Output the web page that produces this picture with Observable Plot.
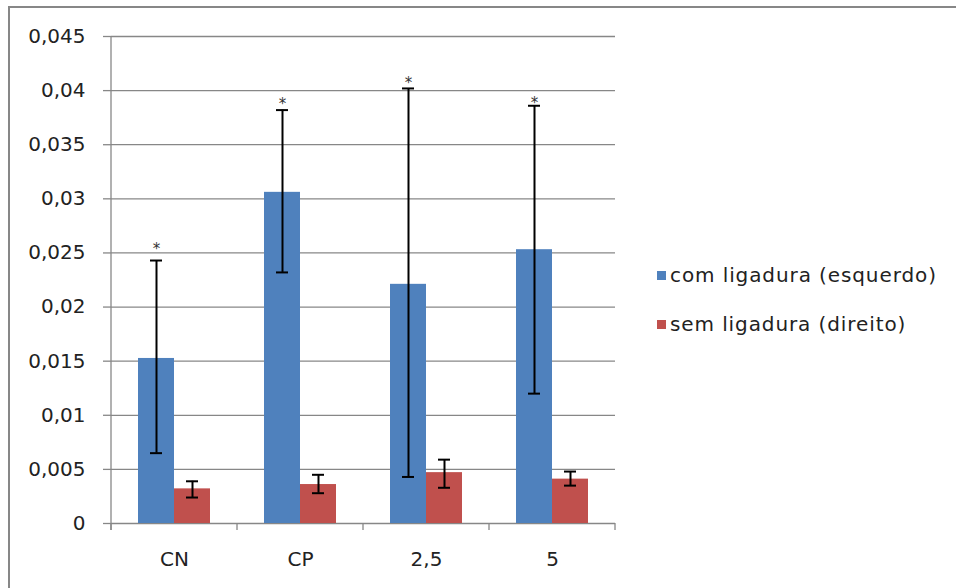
<!DOCTYPE html>
<html><head><meta charset="utf-8">
<script src="https://cdn.jsdelivr.net/npm/d3@7"></script>
<script src="https://cdn.jsdelivr.net/npm/@observablehq/plot@0.6"></script>
<style>
html,body{margin:0;padding:0;background:#fff;}
#wrap{position:relative;width:956px;height:588px;overflow:hidden;font-family:"DejaVu Sans",sans-serif;}
#border{position:absolute;left:8px;top:6px;width:1000px;height:1000px;border-left:2px solid #878787;border-top:2px solid #878787;}
#chart{position:absolute;left:0;top:0;}
.leg{position:absolute;left:657px;display:flex;align-items:center;font-size:20px;letter-spacing:0.9px;color:#222;line-height:20px;white-space:nowrap;}
.sw{width:9px;height:9px;margin-right:4px;}
</style></head>
<body>
<div id="wrap"><div id="border"></div><div id="chart"></div><div id="legend"></div></div>
<script>
const categories = ["CN", "CP", "2,5", "5"];
const seriesNames = ["com ligadura (esquerdo)", "sem ligadura (direito)"];
const seriesColors = ["#4f81bd", "#c0504d"];
const comMean = [0.01525, 0.0306, 0.0221, 0.0253];
const comLow  = [0.0065, 0.0232, 0.0043, 0.0120];
const comHigh = [0.0243, 0.0382, 0.0402, 0.0386];
const semMean = [0.0032, 0.0036, 0.0047, 0.0041];
const semLow  = [0.0024, 0.0028, 0.0033, 0.0035];
const semHigh = [0.0039, 0.0045, 0.0059, 0.0048];
const starY   = [0.0257, 0.0391, 0.0411, 0.0392];
const yTicks = [0, 0.005, 0.01, 0.015, 0.02, 0.025, 0.03, 0.035, 0.04, 0.045];
const yTickLabels = ["0", "0,005", "0,01", "0,015", "0,02", "0,025", "0,03", "0,035", "0,04", "0,045"];

const com = categories.map((c, i) => ({cat: c, v: comMean[i], lo: comLow[i], hi: comHigh[i], star: starY[i]}));
const sem = categories.map((c, i) => ({cat: c, v: semMean[i], lo: semLow[i], hi: semHigh[i]}));
const grid = "#878787";

const boundaryTicks = (index, scales) => {
  const g = d3.create("svg:g").attr("stroke", grid).attr("stroke-width", 1.3);
  const x = scales.x, y = scales.y;
  const bw = x.bandwidth();
  const xs = categories.map(c => x(c)).concat([x(categories[categories.length - 1]) + bw]);
  const y0 = y(0);
  g.append("line").attr("x1", xs[0]).attr("x2", xs[0]).attr("y1", y(0.045)).attr("y2", y0 + 7);
  for (const xv of xs) g.append("line").attr("x1", xv).attr("x2", xv).attr("y1", y0).attr("y2", y0 + 7);
  return g.node();
};

const plot = Plot.plot({
  width: 956, height: 588,
  marginLeft: 111, marginRight: 341, marginTop: 36, marginBottom: 65,
  style: {background: "transparent", fontFamily: "DejaVu Sans, sans-serif", fontSize: "20px", color: "#222"},
  x: {type: "band", domain: categories, padding: 0, label: null},
  y: {domain: [0, 0.045], label: null},
  marks: [
    Plot.gridY(yTicks, {stroke: grid, strokeOpacity: 1, strokeWidth: 1.3}),
    Plot.axisY({ticks: yTicks, tickFormat: d => yTickLabels[yTicks.indexOf(d)], tickSize: 8, tickPadding: 18, stroke: grid, strokeWidth: 1.3, fontSize: 20, label: null}),
    Plot.axisX({tickSize: 0, tickPadding: 28, fontSize: 20, label: null}),
    Plot.barY(com, {x: "cat", y: "v", fill: seriesColors[0], insetLeft: 27, insetRight: 63}),
    Plot.barY(sem, {x: "cat", y: "v", fill: seriesColors[1], insetLeft: 63, insetRight: 27}),
    boundaryTicks,
    Plot.ruleX(com, {x: "cat", y1: "lo", y2: "hi", dx: -18, stroke: "#000", strokeWidth: 2}),
    Plot.ruleX(sem, {x: "cat", y1: "lo", y2: "hi", dx: 18, stroke: "#000", strokeWidth: 2}),
    Plot.tickY(com, {x: "cat", y: "lo", insetLeft: 39, insetRight: 75, stroke: "#000", strokeWidth: 2}),
    Plot.tickY(com, {x: "cat", y: "hi", insetLeft: 39, insetRight: 75, stroke: "#000", strokeWidth: 2}),
    Plot.tickY(sem, {x: "cat", y: "lo", insetLeft: 75, insetRight: 39, stroke: "#000", strokeWidth: 2}),
    Plot.tickY(sem, {x: "cat", y: "hi", insetLeft: 75, insetRight: 39, stroke: "#000", strokeWidth: 2}),
    Plot.text(com, {x: "cat", y: "star", text: () => "*", dx: -18, dy: 4, fontSize: 15, fill: "#333", lineAnchor: "middle"})
  ]
});
document.getElementById("chart").appendChild(plot);

const legend = document.getElementById("legend");
const legTops = [265, 314];
seriesNames.forEach((name, i) => {
  const row = document.createElement("div");
  row.className = "leg";
  row.style.top = legTops[i] + "px";
  row.innerHTML = `<span class="sw" style="background:${seriesColors[i]}"></span><span>${name}</span>`;
  legend.appendChild(row);
});
</script>
</body></html>
